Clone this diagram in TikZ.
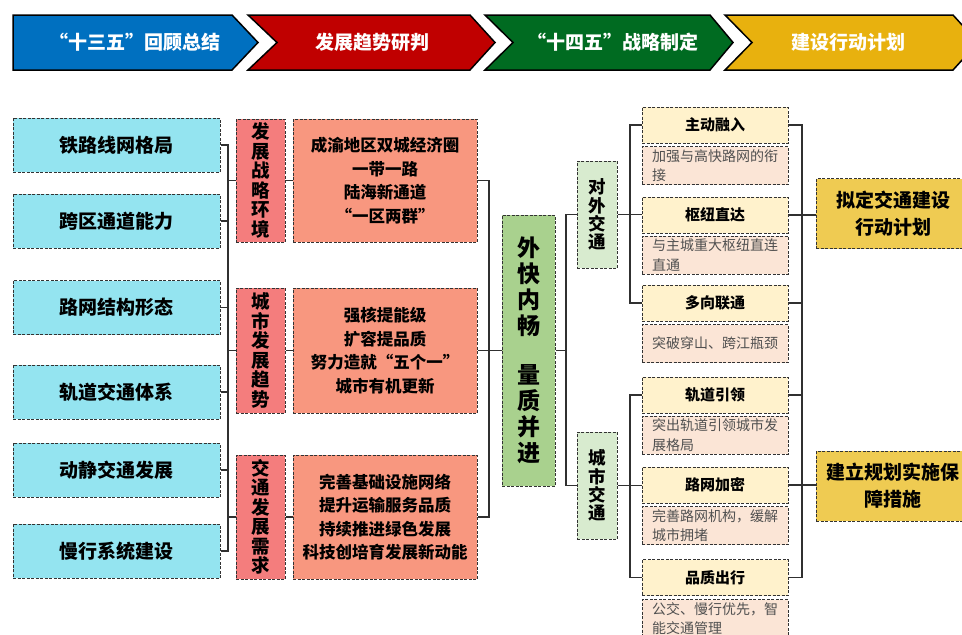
\documentclass[tikz,border=0pt]{standalone}
\usepackage{fontspec}
\setmainfont{Noto Sans CJK SC}
\definecolor{cyanc}{HTML}{94E4F0}
\definecolor{labc}{HTML}{F47D7D}
\definecolor{contc}{HTML}{F8977F}
\definecolor{hubc}{HTML}{A9D18E}
\definecolor{tc}{HTML}{D8EBCF}
\definecolor{hc}{HTML}{FFF2CC}
\definecolor{dc}{HTML}{FBE5D6}
\definecolor{goldc}{HTML}{EFCB52}
\definecolor{bordc}{HTML}{333333}
\definecolor{connc}{HTML}{303030}
\definecolor{descc}{HTML}{505050}
\definecolor{bbluec}{HTML}{0070C0}
\definecolor{bredc}{HTML}{C00000}
\definecolor{bgreenc}{HTML}{006B21}
\definecolor{byellowc}{HTML}{E8B10E}
\tikzset{
  bx/.style={draw=bordc, dash pattern=on 3pt off 1.5pt, line width=1pt, inner sep=0pt, align=center, text=black},
  lbox/.style={bx, fill=cyanc, minimum width=207pt, minimum height=54pt, font=\bfseries\fontsize{19}{22}\selectfont},
  mlab/.style={bx, fill=labc, minimum width=49pt, font=\bfseries\fontsize{18.5}{19.5}\selectfont},
  cbox/.style={bx, fill=contc, minimum width=184pt, font=\bfseries\fontsize{16.5}{23.5}\selectfont},
  tbox/.style={bx, fill=tc, minimum width=40pt, minimum height=107pt, font=\bfseries\fontsize{17.5}{18.3}\selectfont},
  hbox/.style={bx, fill=hc, minimum width=146pt, minimum height=36pt, font=\bfseries\fontsize{15}{18}\selectfont},
  dbox/.style={bx, fill=dc, inner xsep=10pt, text width=126pt, align=left, minimum height=38pt, text=descc, font=\fontsize{14}{19.5}\selectfont},
  rbox/.style={bx, fill=goldc, minimum width=154pt, minimum height=70pt, font=\bfseries\fontsize{19}{27}\selectfont},
  conn/.style={draw=connc, line width=1.3pt},
  ban/.style={draw=black, line width=1.5pt, line join=miter},
  bantext/.style={text=white, inner sep=0pt, font=\bfseries\fontsize{19}{22}\selectfont}
}
\begin{document}
\begin{tikzpicture}[x=1pt,y=-1pt]
\clip (0,0) rectangle (962,635);
\fill[white] (0,0) rectangle (962,635);

% banner
\fill[ban, fill=bbluec] (13,15) -- (232,15) -- (258,42.5) -- (232,70) -- (13,70) -- cycle;
\fill[ban, fill=bredc] (248,15) -- (470,15) -- (495,42.5) -- (470,70) -- (248,70) -- (277,42.5) -- cycle;
\fill[ban, fill=bgreenc] (485,15) -- (710,15) -- (733,42.5) -- (710,70) -- (485,70) -- (513,42.5) -- cycle;
\fill[ban, fill=byellowc] (725,15) -- (953,15) -- (978,42.5) -- (953,70) -- (725,70) -- (752,42.5) -- cycle;
\node[bantext] (b1) at (135,42.5) {“十三五”回顾总结};
\node[bantext] (b2) at (372,42.5) {发展趋势研判};
\node[bantext] (b3) at (613,42.5) {“十四五”战略制定};
\node[bantext] (b4) at (848.5,42.5) {建设行动计划};

% left boxes
\node[lbox] (l1) at (116.5,145) {铁路线网格局};
\node[lbox] (l2) at (116.5,221) {跨区通道能力};
\node[lbox] (l3) at (116.5,307.5) {路网结构形态};
\node[lbox] (l4) at (116.5,392) {轨道交通体系};
\node[lbox] (l5) at (116.5,470) {动静交通发展};
\node[lbox] (l6) at (116.5,551) {慢行系统建设};

% middle labels
\node[mlab, minimum height=123pt] (m1) at (260.5,180.5) {发\\展\\战\\略\\环\\境};
\node[mlab, minimum height=125pt] (m2) at (260.5,350.5) {城\\市\\发\\展\\趋\\势};
\node[mlab, minimum height=124pt] (m3) at (260.5,517) {交\\通\\发\\展\\需\\求};

% content
\node[cbox, minimum height=123pt] (c1) at (385,180.5) {成渝地区双城经济圈\\一带一路\\陆海新通道\\“一区两群”};
\node[cbox, minimum height=125pt] (c2) at (385,350.5) {强核提能级\\扩容提品质\\努力造就“五个一”\\城市有机更新};
\node[cbox, minimum height=124pt] (c3) at (385,517) {完善基础设施网络\\提升运输服务品质\\持续推进绿色发展\\科技创培育发展新动能};

% hub
\node[bx, fill=hubc, minimum width=53pt, minimum height=271pt, font=\bfseries\fontsize{23}{26}\selectfont] (hub) at (528.5,350.5) {外\\快\\内\\畅\\[23pt]量\\质\\并\\进};

% traffic type
\node[tbox] (t1) at (597,214.5) {对\\外\\交\\通};
\node[tbox] (t2) at (597,485.5) {城\\市\\交\\通};

% headers and descriptions
\node[hbox] (h1) at (715,125) {主动融入};
\node[dbox] (d1) at (715,165.5) {加强与高快路网的衔\\接};
\node[hbox] (h2) at (715,215) {枢纽直达};
\node[dbox] (d2) at (715,255) {与主城重大枢纽直连\\直通};
\node[hbox] (h3) at (715,303) {多向联通};
\node[dbox] (d3) at (715,343.5) {突破穿山、跨江瓶颈};
\node[hbox] (h4) at (715,395) {轨道引领};
\node[dbox] (d4) at (715,435) {突出轨道引领城市发\\展格局};
\node[hbox] (h5) at (715,485) {路网加密};
\node[dbox] (d5) at (715,525.5) {完善路网机构，缓解\\城市拥堵};
\node[hbox] (h6) at (715,577.5) {品质出行};
\node[dbox] (d6) at (715,618.5) {公交、慢行优先，智\\能交通管理};

% right
\node[rbox] (r1) at (893,213.5) {拟定交通建设\\行动计划};
\node[rbox] (r2) at (893,486) {建立规划实施保\\障措施};

% spines
\coordinate (sL) at (228,0);
\coordinate (sC) at (489,0);
\coordinate (sM) at (566,0);
\coordinate (sA) at (630,0);
\coordinate (sR) at (802,0);

% connectors left
\draw[conn] (l1.east) -- (l1.east -| sL) -- (l6.east -| sL) -- (l6.east);
\foreach \n in {l2,l3,l4,l5} \draw[conn] (\n.east) -- (\n.east -| sL);
\foreach \n in {m1,m2,m3} \draw[conn] (\n.west) -- (\n.west -| sL);
\foreach \i in {1,2,3} \draw[conn] (m\i.east) -- (c\i.west);
% to hub
\draw[conn] (c1.east) -- (c1.east -| sC) -- (c3.east -| sC) -- (c3.east);
\draw[conn] (c2.east) -- (c2.east -| sC);
\draw[conn] (hub.west) -- (hub.west -| sC);
% hub to types
\draw[conn] (t1.west) -- (t1.west -| sM) -- (t2.west -| sM) -- (t2.west);
\draw[conn] (hub.east) -- (hub.east -| sM);
% types to headers
\draw[conn] (h1.west) -- (h1.west -| sA) -- (h3.west -| sA) -- (h3.west);
\draw[conn] (t1.east) -- (t1.east -| h2.west);
\draw[conn] (h4.west) -- (h4.west -| sA) -- (h6.west -| sA) -- (h6.west);
\draw[conn] (t2.east) -- (t2.east -| h5.west);
% headers to right
\draw[conn] (h1.east) -- (h1.east -| sR) -- (h6.east -| sR) -- (h6.east);
\foreach \n in {h3,h4} \draw[conn] (\n.east) -- (\n.east -| sR);
\draw[conn] (h2.east) -- (h2.east -| r1.west);
\draw[conn] (h5.east) -- (h5.east -| r2.west);
\end{tikzpicture}
\end{document}
